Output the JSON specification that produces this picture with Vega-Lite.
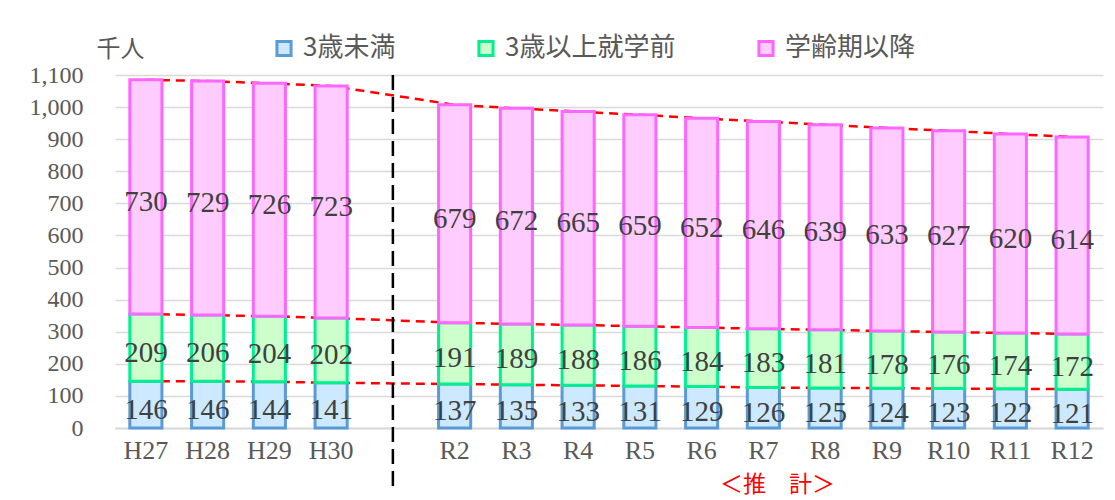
{
  "$schema": "https://vega.github.io/schema/vega-lite/v6.json",
  "width": 988,
  "height": 353,
  "autosize": {"type": "none"},
  "padding": {"left": 115, "top": 75, "right": 12, "bottom": 72},
  "background": "white",
  "config": {
    "view": {"stroke": null},
    "font": "Liberation Serif",
    "axis": {"labelColor": "#595959", "ticks": false, "titleFontWeight": "normal"},
    "legend": {
      "orient": "none",
      "legendX": 156,
      "legendY": -40,
      "direction": "horizontal",
      "symbolType": "square",
      "symbolSize": 200,
      "symbolStrokeWidth": 3,
      "labelFont": "Noto Sans CJK JP",
      "labelFontSize": 26,
      "labelColor": "#595959",
      "labelLimit": 400,
      "columnPadding": 76,
      "labelOffset": 6
    }
  },
  "data": {
    "values": [
      {"year": "H27", "series": "3歳未満", "k": 1, "n": 146},
      {"year": "H27", "series": "3歳以上就学前", "k": 2, "n": 209},
      {"year": "H27", "series": "学齢期以降", "k": 3, "n": 730},
      {"year": "H28", "series": "3歳未満", "k": 1, "n": 146},
      {"year": "H28", "series": "3歳以上就学前", "k": 2, "n": 206},
      {"year": "H28", "series": "学齢期以降", "k": 3, "n": 729},
      {"year": "H29", "series": "3歳未満", "k": 1, "n": 144},
      {"year": "H29", "series": "3歳以上就学前", "k": 2, "n": 204},
      {"year": "H29", "series": "学齢期以降", "k": 3, "n": 726},
      {"year": "H30", "series": "3歳未満", "k": 1, "n": 141},
      {"year": "H30", "series": "3歳以上就学前", "k": 2, "n": 202},
      {"year": "H30", "series": "学齢期以降", "k": 3, "n": 723},
      {"year": "R2", "series": "3歳未満", "k": 1, "n": 137},
      {"year": "R2", "series": "3歳以上就学前", "k": 2, "n": 191},
      {"year": "R2", "series": "学齢期以降", "k": 3, "n": 679},
      {"year": "R3", "series": "3歳未満", "k": 1, "n": 135},
      {"year": "R3", "series": "3歳以上就学前", "k": 2, "n": 189},
      {"year": "R3", "series": "学齢期以降", "k": 3, "n": 672},
      {"year": "R4", "series": "3歳未満", "k": 1, "n": 133},
      {"year": "R4", "series": "3歳以上就学前", "k": 2, "n": 188},
      {"year": "R4", "series": "学齢期以降", "k": 3, "n": 665},
      {"year": "R5", "series": "3歳未満", "k": 1, "n": 131},
      {"year": "R5", "series": "3歳以上就学前", "k": 2, "n": 186},
      {"year": "R5", "series": "学齢期以降", "k": 3, "n": 659},
      {"year": "R6", "series": "3歳未満", "k": 1, "n": 129},
      {"year": "R6", "series": "3歳以上就学前", "k": 2, "n": 184},
      {"year": "R6", "series": "学齢期以降", "k": 3, "n": 652},
      {"year": "R7", "series": "3歳未満", "k": 1, "n": 126},
      {"year": "R7", "series": "3歳以上就学前", "k": 2, "n": 183},
      {"year": "R7", "series": "学齢期以降", "k": 3, "n": 646},
      {"year": "R8", "series": "3歳未満", "k": 1, "n": 125},
      {"year": "R8", "series": "3歳以上就学前", "k": 2, "n": 181},
      {"year": "R8", "series": "学齢期以降", "k": 3, "n": 639},
      {"year": "R9", "series": "3歳未満", "k": 1, "n": 124},
      {"year": "R9", "series": "3歳以上就学前", "k": 2, "n": 178},
      {"year": "R9", "series": "学齢期以降", "k": 3, "n": 633},
      {"year": "R10", "series": "3歳未満", "k": 1, "n": 123},
      {"year": "R10", "series": "3歳以上就学前", "k": 2, "n": 176},
      {"year": "R10", "series": "学齢期以降", "k": 3, "n": 627},
      {"year": "R11", "series": "3歳未満", "k": 1, "n": 122},
      {"year": "R11", "series": "3歳以上就学前", "k": 2, "n": 174},
      {"year": "R11", "series": "学齢期以降", "k": 3, "n": 620},
      {"year": "R12", "series": "3歳未満", "k": 1, "n": 121},
      {"year": "R12", "series": "3歳以上就学前", "k": 2, "n": 172},
      {"year": "R12", "series": "学齢期以降", "k": 3, "n": 614}
    ]
  },
  "encoding": {
    "x": {
      "field": "year",
      "type": "ordinal",
      "sort": ["H27", "H28", "H29", "H30", " ", "R2", "R3", "R4", "R5", "R6", "R7", "R8", "R9", "R10", "R11", "R12"],
      "scale": {
        "domain": ["H27", "H28", "H29", "H30", " ", "R2", "R3", "R4", "R5", "R6", "R7", "R8", "R9", "R10", "R11", "R12"],
        "paddingInner": 0.48,
        "paddingOuter": 0.24
      },
      "title": "＜推　計＞",
      "axis": {
        "labelAngle": 0,
        "labelFont": "Liberation Serif",
        "labelFontSize": 26,
        "labelPadding": 9,
        "domain": true,
        "domainColor": "#D9D9D9",
        "domainWidth": 2,
        "grid": false,
        "titleColor": "#FF0000",
        "titleFont": "Noto Sans CJK JP",
        "titleFontSize": 23,
        "titleX": 662,
        "titleY": 56,
        "titleAlign": "center",
        "titleBaseline": "middle"
      }
    },
    "y": {
      "field": "v1",
      "type": "quantitative",
      "title": "千人",
      "scale": {"domain": [0, 1100], "nice": false},
      "axis": {
        "values": [0, 100, 200, 300, 400, 500, 600, 700, 800, 900, 1000, 1100],
        "labelExpr": "format(datum.value, ',')",
        "grid": true,
        "gridColor": "#D9D9D9",
        "gridWidth": 1.5,
        "domain": false,
        "labelFont": "Liberation Serif",
        "labelFontSize": 24,
        "labelPadding": 32,
        "titleAngle": 0,
        "titleFont": "Noto Sans CJK JP",
        "titleFontSize": 24,
        "titleX": 5,
        "titleY": -26,
        "titleAlign": "center",
        "titleBaseline": "middle",
        "titleColor": "#595959"
      }
    }
  },
  "transform": [{"stack": "n", "groupby": ["year"], "sort": [{"field": "k", "order": "ascending"}], "as": ["v0", "v1"]}],
  "layer": [
    {
      "mark": {"type": "line", "color": "#FF0000", "strokeDash": [9, 6], "strokeWidth": 2.5},
      "encoding": {
        "detail": {"field": "series"}
      }
    },
    {
      "mark": {"type": "bar", "strokeWidth": 3},
      "encoding": {
        "y2": {"field": "v0"},
        "fill": {
          "field": "series",
          "type": "nominal",
          "title": null,
          "scale": {"domain": ["3歳未満", "3歳以上就学前", "学齢期以降"], "range": ["#CCE9FF", "#CCFFCC", "#FFCCFF"]}
        },
        "stroke": {
          "field": "series",
          "type": "nominal",
          "title": null,
          "scale": {"domain": ["3歳未満", "3歳以上就学前", "学齢期以降"], "range": ["#5B9BD5", "#00F090", "#FF66FF"]}
        }
      }
    },
    {
      "transform": [
        {"fold": ["v0", "v1"], "as": ["edge", "pos"]},
        {"aggregate": [{"op": "mean", "field": "pos", "as": "mid"}], "groupby": ["year", "series", "n"]}
      ],
      "mark": {"type": "text", "font": "Liberation Serif", "fontSize": 29, "color": "#404040", "baseline": "middle", "dy": 5},
      "encoding": {
        "y": {"field": "mid", "type": "quantitative", "title": "千人"},
        "text": {"field": "n", "type": "quantitative"}
      }
    },
    {
      "data": {"values": [{"year": " ", "top": 1100, "bottom": -195}]},
      "mark": {"type": "rule", "color": "#000000", "strokeDash": [15, 7], "strokeWidth": 2.5},
      "encoding": {
        "y": {"field": "top", "type": "quantitative", "title": "千人"},
        "y2": {"field": "bottom"}
      }
    }
  ]
}
